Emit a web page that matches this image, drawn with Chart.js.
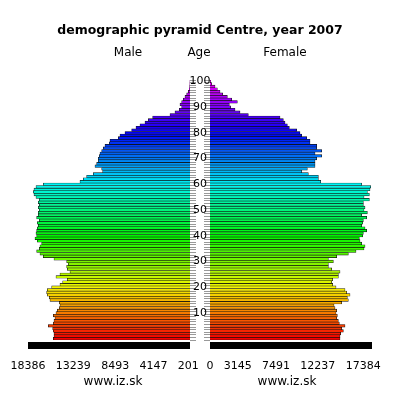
<!DOCTYPE html>
<html>
<head>
<meta charset="utf-8">
<script src="https://cdn.jsdelivr.net/npm/chart.js@4"></script>
<style>
  body { margin: 0; background: #fff; font-family: "DejaVu Sans", sans-serif; }
  #wrap { position: relative; width: 400px; height: 400px; }
  canvas { position: absolute; left: 0; top: 0; }
  .t { position: absolute; color: #000; white-space: nowrap; transform: translateX(-50%); }
</style>
</head>
<body>
<div id="wrap">
  <canvas id="male" width="400" height="400"></canvas>
  <canvas id="female" width="400" height="400"></canvas>
  <div class="t" style="left:200px;top:22px;font-weight:bold;font-size:12.5px">demographic pyramid Centre, year 2007</div>
  <div class="t" style="left:128px;top:45px;font-size:12px">Male</div>
  <div class="t" style="left:199px;top:45px;font-size:12px">Age</div>
  <div class="t" style="left:285px;top:45px;font-size:12px">Female</div>
  <div class="t" style="left:113px;top:374px;font-size:12px">www.iz.sk</div>
  <div class="t" style="left:287px;top:374px;font-size:12px">www.iz.sk</div>
</div>
<script>
const ages = Array.from({length: 101}, (_, i) => String(i));

const male = [15510, 15436, 15436, 15510, 15587, 16080, 15510, 15436, 15322, 15510,
  15209, 15058, 14831, 14755, 14831, 15890, 15966, 16193, 16269, 16193,
  15700, 14755, 14452, 13922, 15209, 14755, 13620, 13922, 13998, 13809,
  13998, 15436, 16647, 17025, 17403, 17101, 17025, 16836, 17328, 17593,
  17403, 17479, 17403, 17328, 17214, 17328, 17101, 17403, 17214, 17214,
  17101, 17214, 17101, 17214, 17101, 17479, 17706, 17782, 17706, 17479,
  16647, 12485, 12107, 11729, 10972, 9913, 10026, 10783, 10594, 10405,
  10405, 10291, 10215, 10026, 9837, 9648, 9156, 9080, 8134, 7945,
  7378, 6620, 6129, 5675, 5108, 4729, 4238, 2270, 1703, 1211,
  946, 1135, 946, 757, 568, 378, 189, 76, 40, 20, 10];

const female = [14755, 14755, 14831, 15134, 14944, 15322, 14679, 14566, 14377, 14452,
  14301, 14377, 14188, 14074, 14944, 15700, 15587, 15890, 15510, 15322,
  14301, 13922, 13809, 13922, 14566, 14566, 14755, 13809, 13431, 13431,
  13998, 13431, 14377, 15700, 16571, 17479, 17593, 17214, 17025, 16949,
  17328, 17403, 17782, 17593, 17214, 17328, 17403, 17782, 17214, 17858,
  17479, 17593, 17403, 17403, 18085, 17479, 18085, 17858, 18160, 18236,
  17214, 12561, 12297, 12297, 11161, 10405, 11047, 11918, 11918, 11918,
  12107, 12674, 11918, 12674, 12107, 12107, 11350, 11350, 10972, 10405,
  10215, 9837, 9005, 8777, 8513, 8323, 7945, 4351, 3405, 2838,
  2345, 2194, 3103, 2459, 1968, 1438, 1135, 832, 568, 189, 76];

const maleTicks = [18386, 13239, 8493, 4147, 201];
const femaleTicks = [0, 3145, 7491, 12237, 17384];
const axisMax = 18386;

// rainbow from red (age 0) to magenta (age 100)
const colors = ages.map((a) => 'hsl(' + Math.min(300, a * 3) + ', 100%, 48%)');

const font = { family: 'DejaVu Sans', size: 11 };

const blackBase = {
  id: 'blackBase',
  afterDraw(chart) {
    const a = chart.chartArea;
    chart.ctx.save();
    chart.ctx.fillStyle = '#000';
    chart.ctx.fillRect(a.left, a.bottom + 2, a.right - a.left, 7);
    chart.ctx.restore();
  }
};

// age labels in the gap between the two halves
const ageLabels = {
  id: 'ageLabels',
  afterDraw(chart) {
    const y = chart.scales.y;
    const ctx = chart.ctx;
    ctx.save();
    ctx.fillStyle = '#000';
    ctx.font = '11px "DejaVu Sans"';
    ctx.textAlign = 'center';
    ctx.textBaseline = 'middle';
    for (let i = 10; i <= 100; i += 10) ctx.fillText(String(i), 200, y.getPixelForValue(i));
    ctx.restore();
  }
};

function makeChart(id, data, ticks, isMale) {
  return new Chart(document.getElementById(id), {
    type: 'bar',
    plugins: isMale ? [blackBase] : [blackBase, ageLabels],
    data: {
      labels: ages,
      datasets: [{
        data: data,
        backgroundColor: colors,
        borderColor: '#111',
        borderWidth: 0.6,
        barPercentage: 1,
        categoryPercentage: 1
      }]
    },
    options: {
      indexAxis: 'y',
      responsive: false,
      animation: false,
      layout: {
        padding: isMale
          ? { left: 28, right: 190, top: 80, bottom: 20 }
          : { left: 204, right: 28, top: 80, bottom: 20 }
      },
      plugins: { legend: { display: false }, tooltip: { enabled: false } },
      scales: {
        x: {
          min: 0,
          max: axisMax,
          reverse: isMale,
          grid: { display: false, drawTicks: false },
          border: { display: false },
          afterFit(s) { s.height = 40; s.paddingLeft = 0; s.paddingRight = 0; },
          afterBuildTicks(s) { s.ticks = ticks.map((v) => ({ value: v })); },
          ticks: { color: '#000', font: font, padding: 20, maxRotation: 0, autoSkip: false,
                   callback: (v) => String(v) }
        },
        y: {
          position: isMale ? 'right' : 'left',
          reverse: true,
          grid: { drawOnChartArea: false, tickLength: 6, color: '#999' },
          border: { display: false },
          afterFit(s) { s.width = isMale ? 20 : 6; },
          ticks: { autoSkip: false, display: false }
        }
      }
    }
  });
}

makeChart('male', male, maleTicks, true);
makeChart('female', female, femaleTicks, false);
</script>
</body>
</html>
